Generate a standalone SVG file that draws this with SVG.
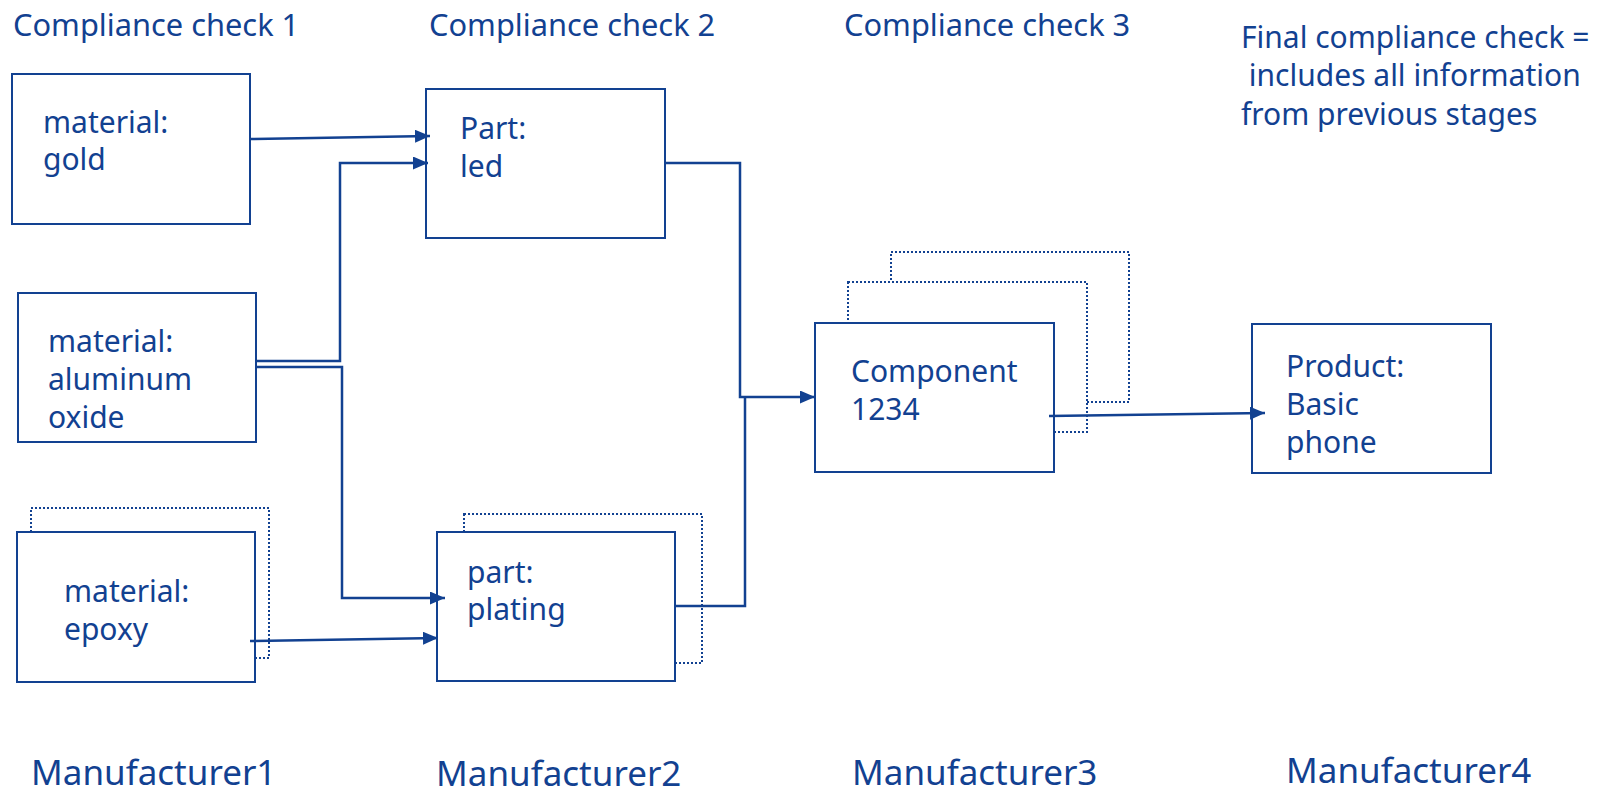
<svg xmlns="http://www.w3.org/2000/svg" width="1599" height="794" viewBox="0 0 1599 794">
  <style>
    text { font-family: "Noto Sans", "Open Sans", sans-serif; fill: #124191; }
    .lbl { font-size: 30.8px; }
    .txt { font-size: 30px; }
    .mfr { font-size: 35px; }
    .box { fill: #ffffff; stroke: #124191; stroke-width: 2; }
    .stack { fill: #ffffff; stroke: #124191; stroke-width: 2; stroke-dasharray: 2 2; }
    .wire { fill: none; stroke: #124191; stroke-width: 2.5; }
  </style>
  <defs>
    <marker id="arrow" markerUnits="userSpaceOnUse" markerWidth="16" markerHeight="14" refX="15" refY="6.5" orient="auto">
      <path d="M0,0 L15,6.5 L0,13 z" fill="#124191"/>
    </marker>
  </defs>
  <rect width="1599" height="794" fill="#ffffff"/>

  <!-- stage headings -->
  <g id="headings">
    <text class="lbl" x="13" y="36">Compliance check 1</text>
    <text class="lbl" x="429" y="36">Compliance check 2</text>
    <text class="lbl" x="844" y="36">Compliance check 3</text>
    <text class="txt" x="1241" y="48">Final compliance check =</text>
    <text class="txt" x="1241" y="86" xml:space="preserve"> includes all information</text>
    <text class="txt" x="1241" y="125">from previous stages</text>
  </g>

  <!-- materials -->
  <g id="gold">
    <rect class="box" x="12" y="74" width="238" height="150"/>
    <text class="txt" x="43" y="133">material:</text>
    <text class="txt" x="43" y="170">gold</text>
  </g>
  <g id="aluminum-oxide">
    <rect class="box" x="18" y="293" width="238" height="149"/>
    <text class="txt" x="48" y="352">material:</text>
    <text class="txt" x="48" y="390">aluminum</text>
    <text class="txt" x="48" y="428">oxide</text>
  </g>
  <g id="epoxy">
    <rect class="stack" x="31" y="508" width="238" height="150"/>
    <rect class="box" x="17" y="532" width="238" height="150"/>
    <text class="txt" x="64" y="602">material:</text>
    <text class="txt" x="64" y="640">epoxy</text>
  </g>

  <!-- parts -->
  <g id="led">
    <rect class="box" x="426" y="89" width="239" height="149"/>
    <text class="txt" x="460" y="139">Part:</text>
    <text class="txt" x="460" y="177">led</text>
  </g>
  <g id="plating">
    <rect class="stack" x="464" y="514" width="238" height="149"/>
    <rect class="box" x="437" y="532" width="238" height="149"/>
    <text class="txt" x="467" y="583">part:</text>
    <text class="txt" x="467" y="620">plating</text>
  </g>

  <!-- component -->
  <g id="component">
    <rect class="stack" x="891" y="252" width="238" height="150"/>
    <rect class="stack" x="848" y="282" width="239" height="150"/>
    <rect class="box" x="815" y="323" width="239" height="149"/>
    <text class="txt" x="851" y="382">Component</text>
    <text class="txt" x="851" y="420">1234</text>
  </g>

  <!-- product -->
  <g id="product">
    <rect class="box" x="1252" y="324" width="239" height="149"/>
    <text class="txt" x="1286" y="377">Product:</text>
    <text class="txt" x="1286" y="415">Basic</text>
    <text class="txt" x="1286" y="453">phone</text>
  </g>

  <!-- manufacturers -->
  <g id="manufacturers">
    <text class="mfr" x="31" y="785">Manufacturer1</text>
    <text class="mfr" x="436" y="786">Manufacturer2</text>
    <text class="mfr" x="852" y="785">Manufacturer3</text>
    <text class="mfr" x="1286" y="783">Manufacturer4</text>
  </g>

  <!-- connectors -->
  <g id="connectors">
    <path class="wire" d="M250,139 L430,136" marker-end="url(#arrow)"/>
    <path class="wire" d="M256,361 H340 V163 H428" marker-end="url(#arrow)"/>
    <path class="wire" d="M256,367 H342 V598 H445" marker-end="url(#arrow)"/>
    <path class="wire" d="M250,641 L438,638" marker-end="url(#arrow)"/>
    <path class="wire" d="M665,163 H740 V397 H815" marker-end="url(#arrow)"/>
    <path class="wire" d="M675,606 H745 V397"/>
    <path class="wire" d="M1049,416 L1265,413" marker-end="url(#arrow)"/>
  </g>
</svg>
